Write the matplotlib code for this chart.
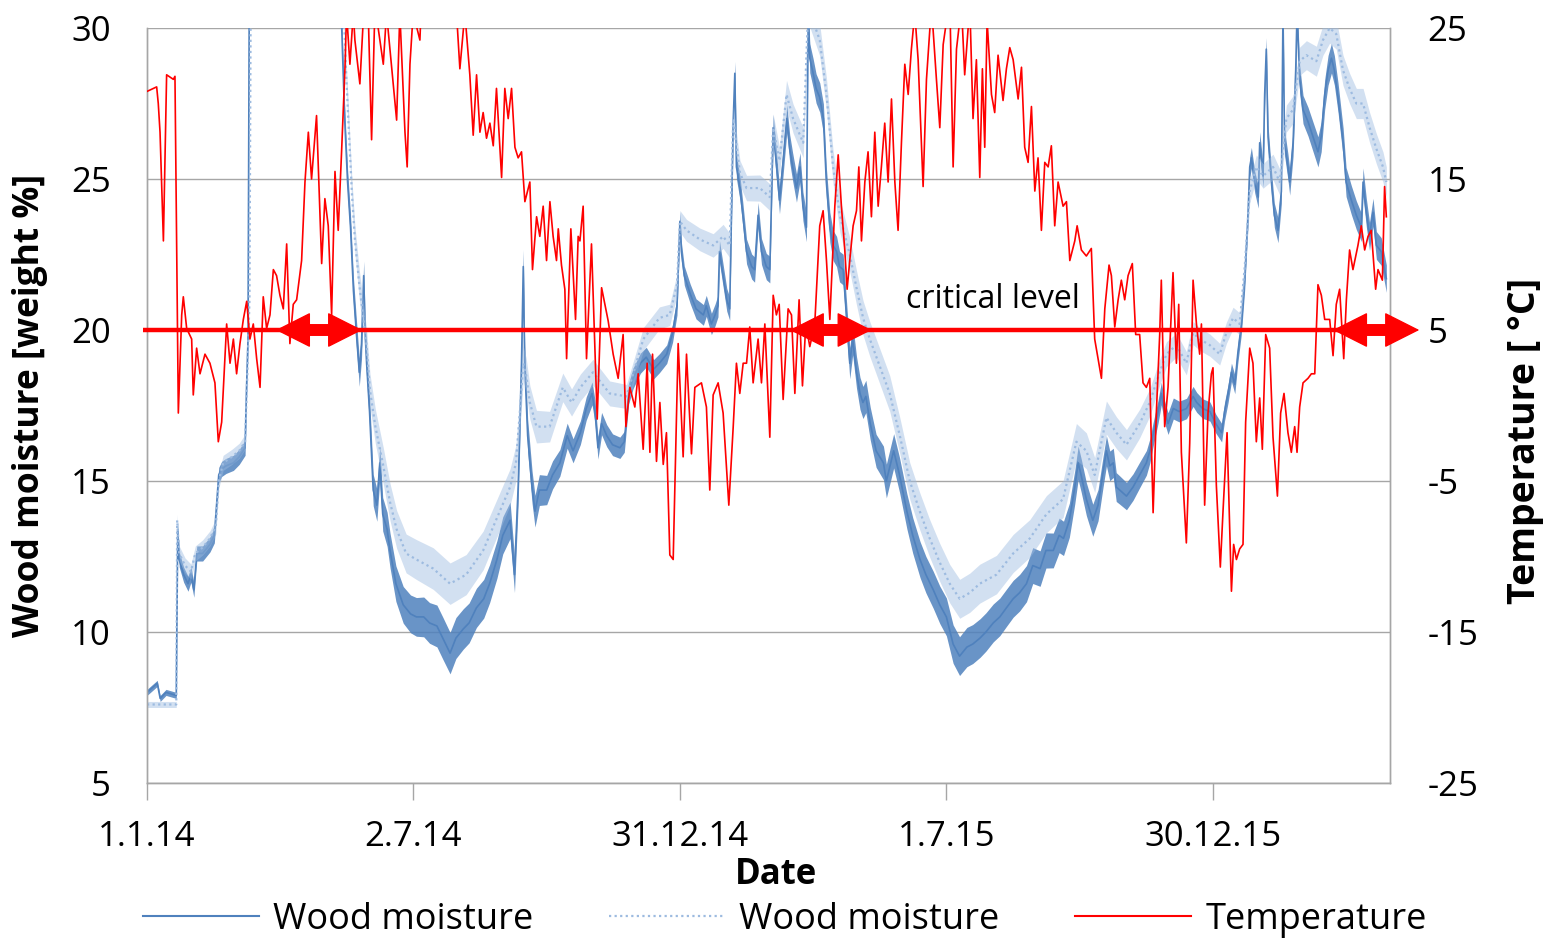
import numpy as np
import matplotlib
matplotlib.use("Agg")
import matplotlib.pyplot as plt
from matplotlib.lines import Line2D

plt.rcParams['font.family'] = ['Open Sans', 'DejaVu Sans']
plt.rcParams['axes.unicode_minus'] = False

# ---------------- data (days since 1.1.14) ----------------
x_tick_days = [0, 182, 364, 546, 728]
x_tick_labels = ['1.1.14', '2.7.14', '31.12.14', '1.7.15', '30.12.15']

moist_day = [0, 7, 9, 13, 20, 21, 22, 25, 28, 30, 32, 34, 38, 43, 46, 49, 51, 54, 59, 63, 67, 68, 69,
             70, 100, 131, 133, 135, 137, 139, 141, 143, 145, 146.5, 148, 149, 150, 152, 154.5, 157,
             159, 161, 164, 166, 170, 175, 180, 184, 189, 193, 198, 202, 207, 211, 216, 220, 225, 230,
             234, 239, 243, 248, 251, 253.5, 255.8, 257, 258, 260, 263, 265, 268, 273, 277, 282, 287,
             291, 296, 300, 304, 306, 308, 310.5, 314, 318, 323, 326, 329, 332, 337, 341, 346, 350,
             355, 359, 362, 364, 365, 367, 371, 375, 380, 382, 385.5, 388, 390, 391, 393.5, 396, 398,
             399, 400.4, 401.5, 402.6, 405, 407, 409.5, 413, 415, 417.4, 419.7, 423, 425.4, 427.7,
             430, 432, 434.5, 437, 439, 441, 443.6, 446, 448, 450.4, 451.6, 452.7, 455, 457, 459.5,
             462, 464, 466.4, 468.6, 471, 473, 475.5, 477.7, 480, 482, 484.6, 487, 489, 491, 494, 498,
             503, 505, 510, 514, 519, 523, 528, 532, 537, 541.5, 546, 550.6, 555, 560, 564, 569, 573,
             578, 582.5, 587, 591.6, 596, 600.7, 605, 610, 614, 619, 623, 626, 630, 633.7, 636, 638,
             641.6, 646, 649.6, 653, 655.3, 657.6, 660, 662, 664.4, 669, 673.5, 678, 682.6, 685, 687,
             690.6, 692.8, 695, 697.4, 701, 705, 710, 714.5, 717, 721, 726, 730, 734, 736, 738.4,
             740.7, 743, 745, 747.5, 749.8, 752, 753.2, 754.3, 756.6, 759, 760, 762.3, 763.4, 764.5,
             765.7, 768, 770, 772.5, 774.8, 775.9, 777, 779.3, 780.5, 782.8, 784.6, 785.5, 787.3,
             789.6, 793, 796.4, 799.8, 802, 804.4, 806.7, 809, 811, 813.5, 817, 819, 822.6, 826,
             829.4, 830.6, 832.8, 835, 837.4, 839.7, 843, 846.5]
moist_val = [8.0, 8.3, 7.8, 8.0, 7.9, 13.4, 12.4, 11.9, 11.6, 11.9, 11.4, 12.6, 12.6, 12.9, 13.2, 15.2,
             15.4, 15.5, 15.6, 15.8, 16.1, 18.1, 19.7,
             33, 33, 33, 30.0, 27.0, 24.9, 23.4, 21.3, 19.9, 18.6, 19.5, 21.8, 19.9, 18.9, 17.3, 14.7,
             14.2, 15.6, 13.9, 13.4, 12.7, 11.6, 10.9, 10.6, 10.5, 10.5, 10.3, 10.2, 9.8, 9.3, 9.8,
             10.1, 10.3, 10.8, 11.1, 11.6, 12.4, 13.2, 13.7, 11.9, 14.8, 18.9, 22.1, 18.9, 16.5, 14.8,
             14.0, 14.7, 14.7, 15.2, 15.6, 16.5, 16.0, 16.6, 17.4, 17.9, 17.3, 16.1, 16.9, 16.5, 16.2,
             16.1, 16.3, 17.9, 18.4, 18.9, 19.1, 18.7, 18.9, 19.2, 19.9, 20.8, 23.6, 22.6, 21.8, 21.2,
             20.7, 20.5, 20.8, 20.2, 20.5, 20.8, 22.6, 21.8, 21.0, 20.7, 23.3, 26.9, 28.5, 25.4, 24.7,
             23.8, 22.6, 22.1, 22.0, 23.8, 22.6, 22.1, 22.0, 26.7, 25.4, 24.3, 25.6, 27.0, 26.0, 25.4,
             24.7, 25.4, 24.1, 23.4, 30.5, 29.0, 28.5, 28.0, 27.7, 27.0, 24.9, 23.4, 22.8, 22.6, 22.1,
             22.0, 20.5, 18.9, 19.7, 18.6, 17.9, 17.6, 17.8, 16.9, 16.0, 15.6, 15.0, 16.0, 15.2, 14.0,
             13.2, 12.4, 11.9, 11.4, 10.9, 10.5, 9.6, 9.2, 9.5, 9.6, 9.8, 10.0, 10.3, 10.5, 10.8, 11.1,
             11.3, 11.6, 12.2, 12.1, 12.7, 12.7, 13.2, 13.1, 13.7, 14.8, 15.6, 15.2, 14.4, 13.7, 14.2,
             15.3, 16.0, 15.5, 15.6, 14.8, 14.7, 14.5, 14.8, 15.2, 15.6, 16.0, 16.5, 17.3, 17.9, 17.3,
             16.9, 17.4, 17.3, 17.4, 17.8, 17.6, 17.4, 17.3, 16.9, 16.6, 17.3, 17.9, 18.6, 18.2, 19.2,
             20.2, 21.7, 23.8, 25.4, 25.7, 24.9, 24.4, 26.2, 25.1, 27.8, 29.3, 26.4, 24.9, 23.8, 23.3,
             24.6, 30.5, 26.2, 25.4, 24.9, 26.2, 28.6, 30.5, 28.3, 27.3, 26.9, 26.4, 25.9, 26.4, 27.8,
             28.6, 29.0, 28.6, 27.7, 26.2, 24.9, 24.3, 23.8, 23.4, 24.9, 23.9, 23.1, 23.9, 22.8, 22.6,
             21.7]
# half-width of the daily fluctuation band, read at a few dates
band_day = [0, 20, 21, 69, 133, 160, 200, 250, 290, 360, 430, 470, 560, 640, 700, 740, 800, 849]
band_half = [0.1, 0.1, 0.25, 0.25, 0.4, 0.55, 0.7, 0.6, 0.4, 0.3, 0.45, 0.5, 0.65, 0.55, 0.35, 0.3, 0.5, 0.45]

moist2_day = [0, 10, 20, 20.6, 22, 26, 30, 33, 38, 43, 47, 49, 52, 58, 63, 67, 68.5, 70, 71, 100, 132,
              134, 136, 138, 140, 142, 145, 147.5, 150, 152.3, 156, 161.4, 166, 170.5, 177, 184, 195.5,
              207, 218, 229.6, 241, 248, 252, 255, 257, 259, 261.5, 266, 275, 284, 290, 296, 304.6,
              316, 327.5, 339, 350, 357, 362, 364, 368.5, 377.6, 386.7, 393.5, 398, 400.4, 405, 409.5,
              418.6, 425.4, 427.7, 432, 436.8, 441.3, 448.2, 451.5, 453, 459.5, 464.1, 468.6, 473.2,
              480, 484.6, 489.1, 493.7, 500.5, 507.3, 514.2, 521, 527.8, 534.6, 541.5, 548.3, 555.1,
              562, 568.8, 580.2, 591.6, 603, 614.3, 625.7, 634.8, 641.6, 647.3, 655.3, 662.1, 669, 678,
              684.9, 691.7, 696.3, 703.1, 709.9, 714.5, 719, 725.9, 732.7, 737.2, 741.8, 746.3, 749.8,
              753.2, 757.7, 762.3, 769.1, 773.7, 778.2, 782.8, 787.3, 791.9, 798.7, 803.2, 807.8,
              812.3, 816.9, 821.4, 826, 830.6, 835.1, 839.7, 844.2, 846.5]
moist2_val = [7.6, 7.6, 7.6, 13.7, 12.6, 12.2, 12.0, 12.6, 12.8, 13.1, 13.5, 15.0, 15.6, 15.8, 16.0, 16.3,
              18.5, 21.0, 33, 33, 33, 31.0, 28.5, 26.5, 24.5, 23.0, 21.5, 20.5, 19.5, 18.0, 16.8, 15.5,
              14.3, 13.4, 12.6, 12.4, 12.1, 11.6, 11.9, 12.7, 14.0, 14.8, 15.6, 17.5, 18.9, 18.5, 17.6,
              16.8, 16.8, 18.1, 17.6, 18.1, 18.6, 17.9, 17.8, 19.7, 20.4, 20.5, 21.5, 23.6, 23.3, 23.0,
              22.8, 23.1, 22.8, 27.0, 25.2, 24.7, 24.7, 24.4, 26.7, 25.6, 27.8, 27.0, 26.2, 30.5, 30.5,
              29.6, 27.8, 25.4, 23.8, 22.5, 21.4, 20.4, 19.7, 18.8, 17.9, 16.5, 15.0, 14.0, 13.1, 12.3,
              11.6, 11.1, 11.3, 11.6, 11.9, 12.6, 13.1, 13.9, 14.4, 16.3, 16.0, 15.2, 17.1, 16.6, 16.2,
              16.9, 17.6, 18.6, 19.2, 19.5, 18.9, 19.9, 19.7, 19.5, 19.2, 19.9, 20.4, 20.2, 22.1, 24.6,
              25.4, 25.1, 25.4, 24.9, 27.0, 27.3, 28.9, 29.1, 28.9, 29.6, 30.0, 29.8, 28.6, 28.0, 27.5,
              27.5, 26.7, 26.0, 25.4, 24.9]
band2_day = [0, 20, 21, 69, 133, 160, 200, 250, 290, 360, 430, 470, 560, 640, 700, 740, 800, 849]
band2_half = [0.1, 0.1, 0.25, 0.25, 0.4, 0.6, 0.7, 0.6, 0.45, 0.35, 0.45, 0.55, 0.65, 0.6, 0.4, 0.35, 0.5, 0.5]

temp_day = [0, 6.6, 7.7, 8.9, 11.2, 13.4, 18.0, 19.1, 21.4, 23.7, 24.8, 27.1, 30.5, 31.6, 33.9, 36.2,
            39.6, 43.0, 46.4, 48.7, 51.0, 54.4, 56.7, 59.0, 61.2, 63.5, 65.8, 68.1, 70.3, 72.6, 74.9,
            77.2, 79.4, 81.7, 84.0, 86.3, 88.5, 90.8, 93.1, 95.4, 97.6, 99.9, 102.2, 105.6, 107.9,
            110.2, 112.4, 115.8, 119.3, 121.5, 123.8, 126.1, 128.4, 130.6, 132.9, 135.2, 136.3, 138.6,
            140.9, 142.0, 145.4, 147.7, 151.1, 153.4, 155.7, 161.4, 163.6, 170.5, 172.7, 176.2, 177.7,
            179.6, 181.8, 186.4, 187.5, 193.2, 200, 206.9, 211.4, 213.7, 217.1, 220.5, 222.8, 225.1,
            227.4, 229.6, 231.9, 234.2, 236.5, 238.7, 242.2, 244.4, 246.7, 249.0, 251.3, 253.5, 255.8,
            258.1, 261.5, 263.3, 266.1, 268.3, 270.6, 272.9, 275.2, 277.4, 279.7, 280.9, 283.1, 285.4,
            286.6, 289.5, 292.7, 294.5, 295.7, 297.9, 300.2, 303.6, 307.5, 310.5, 315.0, 318.4, 321.8,
            325.2, 327.1, 329.8, 333.2, 335.5, 338.9, 341.6, 343.5, 345.3, 348.0, 350.3, 352.6, 354.8,
            357.1, 359.4, 362.8, 366.2, 368.5, 371.9, 374.2, 378.7, 382.1, 384.4, 386.7, 390.1, 393.5,
            397.4, 400.4, 402.6, 404.9, 407.2, 409.5, 411.7, 414.0, 417.4, 419.7, 422.0, 425.4, 427.7,
            429.9, 431.8, 434.5, 437.9, 440.2, 442.5, 445.4, 447.7, 450.0, 452.7, 456.1, 459.5, 461.8,
            464.1, 466.4, 469.8, 472.1, 474.3, 476.6, 478.2, 480.0, 482.3, 484.6, 486.2, 488.0, 490.3,
            492.5, 494.8, 497.1, 499.4, 501.6, 503.9, 506.2, 508.5, 510.8, 513.0, 515.3, 517.6, 519.9,
            522.1, 524.4, 526.7, 530.1, 532.4, 535.8, 539.2, 541.5, 543.8, 548.3, 550.6, 552.9, 556.3,
            558.5, 562.0, 564.2, 566.5, 568.8, 570.6, 572.2, 573.8, 576.8, 579.0, 581.3, 584.7, 587.0,
            589.3, 591.6, 595.0, 597.3, 599.5, 601.8, 604.1, 606.4, 608.6, 610.9, 613.2, 615.5, 617.7,
            620.0, 622.3, 625.7, 628.0, 630.3, 633.7, 635.3, 638.2, 641.6, 645.0, 647.3, 649.6, 651.9,
            654.2, 657.1, 658.7, 661.0, 663.3, 665.5, 667.8, 670.1, 673.0, 675.3, 678.0, 680.3, 682.6,
            684.9, 687.2, 689.4, 691.7, 692.8, 695.1, 697.4, 700.8, 703.1, 704.7, 706.5, 709.9, 712.2,
            714.5, 716.8, 719.0, 720.2, 722.4, 724.7, 727.0, 728.1, 730.4, 733.1, 735.0, 737.7, 740.7,
            742.2, 744.1, 746.3, 748.6, 750.4, 753.2, 755.4, 757.7, 760.0, 761.8, 764.1, 766.8, 769.1,
            772.1, 774.3, 776.6, 779.3, 781.6, 783.9, 785.5, 787.3, 789.6, 793.0, 795.3, 797.6, 799.8,
            802.1, 804.4, 807.8, 810.1, 812.3, 814.6, 817.4, 819.2, 821.4, 823.7, 827.1, 829.4, 831.7,
            834.0, 836.2, 839.2, 840.8, 843.8, 845.3, 846.5]
temp_val = [20.8, 21.1, 20.0, 18.1, 10.9, 21.9, 21.6, 21.8, -0.5, 6.0, 7.2, 5.1, 4.4, 0.7, 3.8, 2.1, 3.4,
            2.8, 1.5, -2.4, -1.1, 5.4, 2.8, 4.4, 2.1, 4.1, 5.7, 6.9, 4.4, 5.4, 3.1, 1.2, 7.2, 5.1, 6.0,
            9.0, 8.6, 7.3, 6.4, 10.7, 4.1, 6.7, 7.0, 9.6, 14.8, 18.1, 15.0, 19.2, 9.4, 13.7, 11.9, 6.0,
            15.5, 11.6, 16.8, 22.3, 26, 22.6, 26, 24.2, 21.3, 25.5, 26, 17.6, 26.5, 22.6, 26, 18.9, 26,
            18.1, 15.8, 22.6, 26, 24.2, 27, 28, 29, 27.5, 26, 22.3, 26, 21.9, 17.9, 21.9, 18.1, 19.4,
            17.7, 18.7, 17.2, 21.0, 15.1, 21.0, 19.0, 21.0, 17.1, 16.4, 16.8, 13.5, 14.8, 9.0, 12.5,
            11.2, 13.2, 9.6, 13.5, 11.2, 9.6, 11.7, 9.3, 7.7, 3.1, 11.7, 5.7, 11.2, 10.9, 13.2, 3.1,
            10.7, -0.9, 7.8, 5.6, 3.4, 1.8, 4.7, -1.4, 1.2, -0.1, 2.1, -2.9, 2.8, -3.1, 3.4, -3.7, 0.2,
            -3.9, -1.8, -9.9, -10.2, 4.1, -3.4, 3.4, -3.2, 1.2, 1.5, -0.1, -5.6, 0.7, 1.5, -0.5, -6.6,
            -1.4, 2.8, 0.8, 2.8, 2.8, 5.2, 1.5, 4.4, 1.5, 5.4, -2.1, 7.3, 6.0, 6.7, 0.4, 6.4, 6.0, 0.8,
            7.0, 1.3, 5.4, 3.9, 5.4, 11.9, 12.9, 9.6, 5.7, 13.2, 16.6, 13.2, 10.3, 7.7, 9.6, 11.9, 12.9,
            15.8, 10.9, 14.8, 16.8, 12.5, 18.1, 13.2, 15.8, 18.7, 14.8, 20.3, 14.8, 11.6, 17.4, 22.6,
            20.6, 23.6, 26, 22.9, 14.5, 21.6, 26.5, 21.6, 18.4, 23.9, 27, 15.8, 23.6, 26.5, 21.9, 26.5,
            19.0, 22.9, 15.1, 22.3, 17.1, 25.5, 20.6, 19.4, 23.2, 20.2, 22.3, 23.7, 22.9, 20.3, 22.4,
            17.1, 16.1, 19.8, 14.2, 16.4, 11.6, 16.1, 15.8, 17.2, 11.9, 14.8, 13.2, 13.5, 9.6, 10.9,
            11.9, 10.3, 9.9, 10.4, 4.4, 3.1, 1.8, 6.4, 9.3, 8.6, 5.2, 7.0, 8.3, 7.0, 8.6, 9.4, 4.7, 4.7,
            1.5, 1.2, 1.8, -7.1, -0.5, 4.7, 8.3, -1.4, 1.2, 8.8, 2.8, 6.7, -3.1, -9.1, -2.5, 8.3, 5.4,
            3.4, 5.4, -6.6, -0.5, 2.1, 2.5, -5.3, -10.7, -6.9, -1.8, -12.3, -9.2, -10.2, -9.5, -9.2,
            -1.1, 3.8, 2.8, -2.4, 0.5, -2.9, 4.7, 3.8, -2.1, -6.0, -0.5, 0.8, -1.8, -3.1, -1.4, -3.1,
            -0.1, 1.5, 1.8, 2.1, 2.1, 8.0, 7.3, 5.7, 5.7, 3.3, 6.7, 7.7, 3.1, 7.0, 10.3, 9.0, 10.6,
            11.9, 10.3, 11.2, 11.6, 7.7, 9.0, 8.3, 14.5, 12.5]

critical_level = 20          # wood moisture [weight %]
arrow_spans = [(88, 147), (439, 495), (810, 869)]   # days

BLUE = '#4F81BD'
LIGHT = '#9DBBE0'
RED = '#FF0000'
GRID = '#A6A6A6'
FS = 25

# ---------------- figure ----------------
W, H = 1551, 941
fig = plt.figure(figsize=(W / 100, H / 100), dpi=100)
L, R, T, B = 147, 1390, 28, 783
ax = fig.add_axes([L / W, 1 - B / H, (R - L) / W, (B - T) / H])
ax.set_xlim(0, 849)
ax.set_ylim(5, 30)
ax2 = ax.twinx()
ax2.set_ylim(-25, 25)

md = np.array(moist_day); mv = np.array(moist_val)
hw = np.interp(md, band_day, band_half)
ax.fill_between(md, mv - hw, mv + hw, color=BLUE, alpha=0.85, lw=0, zorder=2)
ax.plot(md, mv, color=BLUE, lw=1.2, zorder=2)

dd = np.array(moist2_day); dv = np.array(moist2_val)
hw2 = np.interp(dd, band2_day, band2_half)
ax.fill_between(dd, dv - hw2, dv + hw2, color=LIGHT, alpha=0.45, lw=0, zorder=3)
ax.plot(dd, dv, color=LIGHT, lw=1.6, ls=(0, (1, 1.5)), zorder=3)

ax2.plot(temp_day, temp_val, color=RED, lw=1.2, zorder=3)

# critical level line with double arrows (temperature axis: 20 % <-> 5 degC)
crit_t = (critical_level - 20) * 2 + 5
ax2.plot([-3, 849], [crit_t, crit_t], color=RED, lw=3.2, clip_on=False, zorder=4,
         solid_capstyle='butt')
head_days = 22.5
for a, b in arrow_spans:
    ax2.plot([a + head_days, b - head_days], [crit_t, crit_t], color=RED, lw=8.6,
             clip_on=False, zorder=4, solid_capstyle='butt')
    ax2.annotate('', xy=(a, crit_t), xytext=(b, crit_t), annotation_clip=False, zorder=5,
                 arrowprops=dict(arrowstyle='<|-|>,head_length=1.15,head_width=0.58',
                                 mutation_scale=20, lw=1, color=RED, shrinkA=0, shrinkB=0))
ax2.text(578, 7.0, 'critical level', fontsize=23, ha='center', va='center', color='black')

# axes styling
ax.set_yticks([5, 10, 15, 20, 25, 30])
ax2.set_yticks([-25, -15, -5, 5, 15, 25])
ax.grid(axis='y', color=GRID, lw=1)
ax.set_axisbelow(True)
ax.set_xticks(x_tick_days)
ax.set_xticklabels(x_tick_labels)
for a_ in (ax, ax2):
    for s in a_.spines.values():
        s.set_color(GRID)
        s.set_linewidth(1)
    a_.spines['top'].set_visible(False)
ax.tick_params(axis='y', length=0, pad=26, labelsize=FS)
ax2.tick_params(axis='y', length=0, pad=27, labelsize=FS)
ax.tick_params(axis='x', length=12, width=1, color=GRID, pad=15, labelsize=FS)

ax.set_ylabel('Wood moisture [weight %]', fontsize=25.5, fontweight='bold')
ax.yaxis.set_label_coords(-0.094, 0.5)
ax.yaxis.label.set_va('center'); ax.yaxis.label.set_ha('center')
ax2.set_ylabel('Temperature [ °C]', fontsize=27, fontweight='bold')
ax2.yaxis.set_label_coords(1.109, 0.453)
ax2.yaxis.label.set_va('center'); ax2.yaxis.label.set_ha('center')
ax.set_xlabel('Date', fontsize=25, fontweight='bold')
ax.xaxis.set_label_coords(0.506, -0.122)
ax.xaxis.label.set_va('center')

handles = [Line2D([], [], color=BLUE, lw=1.5),
           Line2D([], [], color=LIGHT, lw=1.6, ls=(0, (1, 1.5))),
           Line2D([], [], color=RED, lw=1.5)]
fig.legend(handles, ['Wood moisture', 'Wood moisture', 'Temperature'], loc='center',
           bbox_to_anchor=(785 / W, 1 - 920 / H), ncol=3, frameon=False, fontsize=26,
           handlelength=3.2, handletextpad=0.4, columnspacing=2.1)

fig.savefig('out.png', dpi=100)
